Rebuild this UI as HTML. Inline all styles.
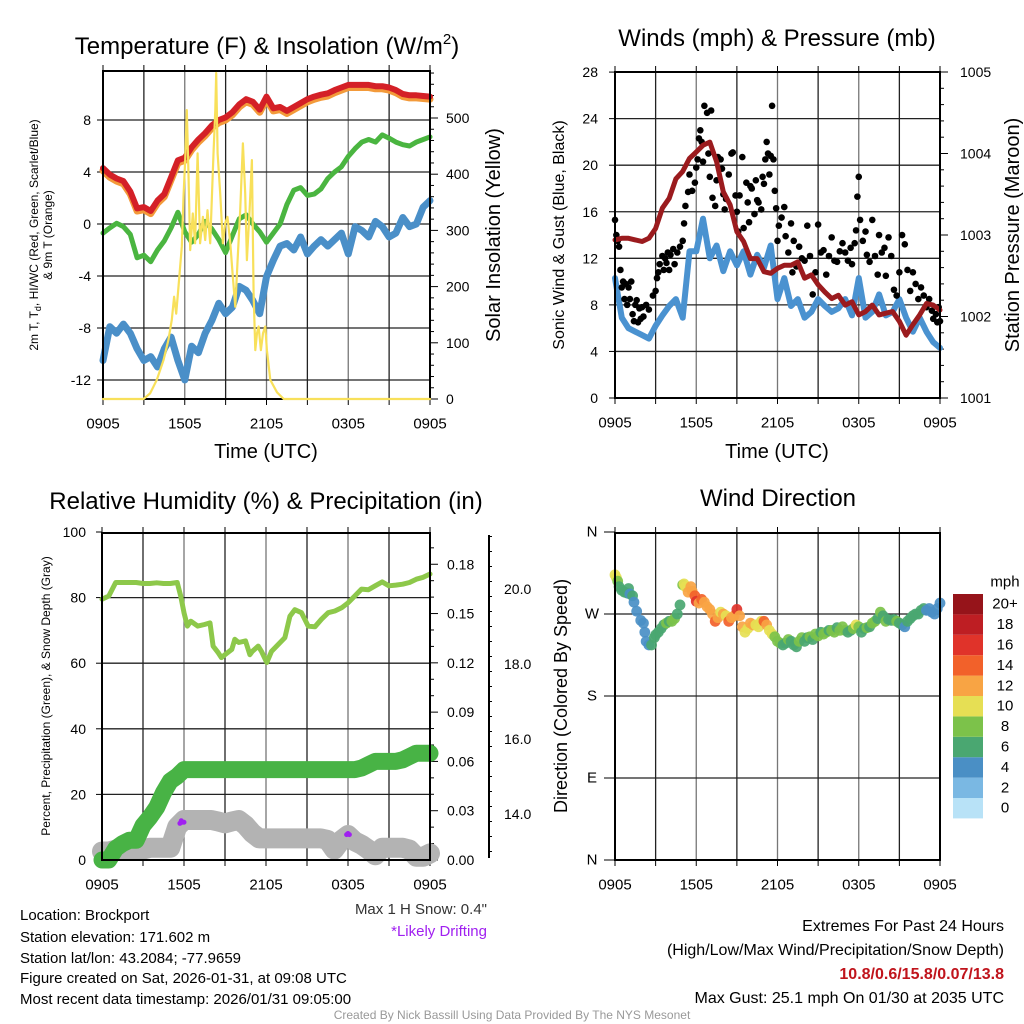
<!DOCTYPE html>
<html><head><meta charset="utf-8"><style>
html,body{margin:0;padding:0;background:#fff}
svg{display:block;font-family:"Liberation Sans",Arial,sans-serif}
</style></head><body>
<svg id="s" width="1024" height="1024" viewBox="0 0 1024 1024" xmlns="http://www.w3.org/2000/svg">
<rect width="1024" height="1024" fill="#fff"/>
<g id="layer"></g>
<text x="267" y="54" font-size="24" text-anchor="middle">Temperature (F) &amp; Insolation (W/m<tspan font-size="15" dy="-10">2</tspan><tspan dy="10">)</tspan></text>
<text x="777" y="46" font-size="24" text-anchor="middle">Winds (mph) &amp; Pressure (mb)</text>
<text x="266" y="509" font-size="24" text-anchor="middle">Relative Humidity (%) &amp; Precipitation (in)</text>
<text x="778" y="506" font-size="24" text-anchor="middle">Wind Direction</text>
<text x="266" y="458" font-size="20" text-anchor="middle">Time (UTC)</text>
<text x="777" y="458" font-size="20" text-anchor="middle">Time (UTC)</text>
<text transform="translate(38,235) rotate(-90)" font-size="12" text-anchor="middle">2m T, T<tspan font-size="9" dy="3">d</tspan><tspan dy="-3">, HI/WC (Red, Green, Scarlet/Blue)</tspan></text>
<text transform="translate(52,235) rotate(-90)" font-size="12" text-anchor="middle">&amp; 9m T (Orange)</text>
<text transform="translate(500,235) rotate(-90)" font-size="20" text-anchor="middle">Solar Insolation (Yellow)</text>
<text transform="translate(564,235) rotate(-90)" font-size="16" text-anchor="middle">Sonic Wind &amp; Gust (Blue, Black)</text>
<text transform="translate(1019,235) rotate(-90)" font-size="20" text-anchor="middle">Station Pressure (Maroon)</text>
<text transform="translate(50,696) rotate(-90)" font-size="12" text-anchor="middle">Percent, Precipitation (Green), &amp; Snow Depth (Gray)</text>
<text transform="translate(567,696) rotate(-90)" font-size="18" text-anchor="middle">Direction (Colored By Speed)</text>
<text x="487" y="914" font-size="15" text-anchor="end" fill="#333">Max 1 H Snow: 0.4"</text>
<text x="487" y="936" font-size="15" text-anchor="end" fill="#a020f0">*Likely Drifting</text>
<g font-size="15">
<text x="20" y="920">Location: Brockport</text>
<text x="20" y="942">Station elevation: 171.602 m</text>
<text x="20" y="963">Station lat/lon: 43.2084; -77.9659</text>
<text x="20" y="983">Figure created on Sat, 2026-01-31, at 09:08 UTC</text>
<text x="20" y="1004">Most recent data timestamp: 2026/01/31 09:05:00</text>
</g>
<g font-size="16" text-anchor="end">
<text x="1004" y="931">Extremes For Past 24 Hours</text>
<text x="1004" y="955">(High/Low/Max Wind/Precipitation/Snow Depth)</text>
<text x="1004" y="979" fill="#c0141c" font-weight="bold">10.8/0.6/15.8/0.07/13.8</text>
<text x="1004" y="1003">Max Gust: 25.1 mph On 01/30 at 2035 UTC</text>
</g>
<text x="512" y="1019" font-size="12" text-anchor="middle" fill="#999">Created By Nick Bassill Using Data Provided By The NYS Mesonet</text>
</svg>
<script>
// ---- data ----
const timeLabels = ["0905","1505","2105","0305","0905"];
const halfHours = [0,0.5,1,1.5,2,2.5,3,3.5,4,4.5,5,5.5,6,6.5,7,7.5,8,8.5,9,9.5,10,10.5,11,11.5,12,12.5,13,13.5,14,14.5,15,15.5,16,16.5,17,17.5,18,18.5,19,19.5,20,20.5,21,21.5,22,22.5,23,23.5,24];
const tempF = [4.3,3.8,3.5,3.3,2.5,1.2,1.3,1.0,1.8,2.3,3.6,4.9,5.1,5.9,6.5,7.0,7.6,8.0,8.2,8.6,9.2,9.6,9.4,8.8,9.8,8.9,9.0,8.7,9.0,9.3,9.6,9.8,9.95,10.05,10.3,10.5,10.7,10.7,10.7,10.7,10.6,10.6,10.5,10.3,10.0,9.9,9.9,9.85,9.8];
const temp9mF = [4.1,3.6,3.3,3.1,2.3,1.0,1.1,0.8,1.6,2.1,3.4,4.7,4.9,5.7,6.3,6.8,7.4,7.8,8.0,8.4,9.0,9.4,9.2,8.6,9.6,8.7,8.8,8.5,8.8,9.1,9.4,9.6,9.75,9.85,10.1,10.3,10.5,10.5,10.5,10.5,10.4,10.4,10.3,10.1,9.8,9.7,9.7,9.65,9.6];
const windChillF = [-0.7,-0.3,0.05,-0.2,-0.8,-2.6,-2.4,-2.9,-2.0,-1.3,-0.3,0.9,-0.6,-1.4,-0.8,0.2,-0.4,-1.2,-2.2,-0.9,0.4,0.7,0,-0.6,-1.4,-0.7,0,1.5,2.6,2.8,2.2,2.3,2.7,3.5,4.0,4.4,5.2,5.8,6.3,6.5,6.3,6.85,6.6,6.3,6.1,6.0,6.3,6.5,6.7];
const dewPointF = [-10.5,-7.9,-8.4,-7.7,-8.4,-9.6,-10.5,-10.2,-11.0,-9.6,-8.7,-10.5,-12.0,-9.4,-9.9,-8.4,-7.4,-6.1,-6.9,-6.4,-4.8,-5.1,-5.9,-6.9,-4.05,-2.8,-1.7,-1.5,-2.0,-1.0,-2.3,-1.7,-1.2,-1.7,-1.2,-0.7,-2.3,-0.2,-0.5,-1.0,0.2,-0.2,-1.0,-0.7,0.5,-0.2,0,1.3,1.8];
const solarHours = [0,2.97,3.46,3.95,4.44,4.80,5.05,5.22,5.37,5.54,5.78,5.91,6.03,6.15,6.27,6.40,6.59,6.76,6.94,7.13,7.33,7.50,7.67,7.87,8.11,8.24,8.31,8.41,8.60,8.80,8.97,9.14,9.34,9.53,9.71,9.88,10.07,10.27,10.44,10.56,10.76,10.93,11.05,11.18,11.30,11.42,11.59,11.74,11.91,12.03,12.28,12.77,13.26,24];
const solarWm2 = [0,0,10,34,69,105,141,182,152,200,271,360,425,514,407,265,330,277,437,277,324,283,336,277,437,514,580,437,366,277,313,324,277,218,164,247,336,455,366,247,336,425,188,87,117,129,87,117,129,87,34,12,0,0];
const windMph = [10.3,6.9,6.0,5.7,5.4,5.1,6.2,7.1,7.9,8.5,6.9,12.6,12.6,15.4,12.0,13.1,10.9,12.6,11.4,12.6,10.6,12.3,11.2,13.1,8.5,10.3,7.9,8.5,6.9,7.4,8.5,7.9,7.4,7.7,8.5,7.1,10.3,6.9,7.4,8.9,7.1,7.4,8.5,6.9,5.7,6.9,5.7,4.8,4.3];
const pressureMb = [1002.94,1002.96,1002.96,1002.94,1002.92,1002.96,1003.08,1003.33,1003.45,1003.69,1003.78,1003.94,1004.02,1004.10,1004.14,1003.90,1003.53,1003.37,1003.04,1002.92,1002.71,1002.71,1002.55,1002.53,1002.59,1002.63,1002.63,1002.67,1002.47,1002.51,1002.39,1002.30,1002.22,1002.26,1002.14,1002.18,1002.02,1002.06,1002.14,1002.02,1002.04,1002.06,1001.94,1001.77,1001.90,1002.02,1002.16,1002.14,1002.08];
const gustHours = [0,0.1,0.2,0.3,0.4,0.5,0.6,0.7,0.8,0.9,1.0,1.1,1.2,1.3,1.4,1.5,1.6,1.7,1.8,1.9,2.0,2.1,2.3,2.5,2.8,3.0,3.1,3.2,3.3,3.5,3.6,3.7,3.8,3.9,4.0,4.1,4.3,4.4,4.6,4.8,5.0,5.1,5.2,5.4,5.5,5.7,5.9,6.0,6.1,6.2,6.3,6.4,6.5,6.6,6.8,6.9,7.0,7.1,7.2,7.4,7.5,7.6,7.8,7.9,8.0,8.1,8.2,8.4,8.6,8.7,8.9,9.0,9.1,9.2,9.4,9.5,9.7,9.8,9.9,10.0,10.1,10.3,10.4,10.5,10.6,10.8,10.9,11.0,11.1,11.2,11.3,11.4,11.5,11.6,11.7,11.8,11.9,12.0,12.1,12.3,12.5,12.6,12.8,13.0,13.1,13.2,13.4,13.6,13.8,14.0,14.2,14.4,14.6,14.8,15.0,15.2,15.4,15.6,15.8,16.0,16.2,16.4,16.6,16.8,17.0,17.2,17.4,17.5,17.7,17.8,17.9,18.0,18.1,18.3,18.5,18.6,18.8,19.0,19.2,19.4,19.5,19.7,19.9,20.0,20.2,20.4,20.6,20.8,21.0,21.2,21.4,21.6,21.8,22.0,22.2,22.4,22.6,22.8,23.0,23.2,23.4,23.5,23.7,23.8,23.9,24.0];
const gustMph = [15.3,14.0,13.5,13.0,11.0,9.5,10.0,8.5,9.8,8.0,9.5,8.5,10.0,7.2,6.6,8.0,8.4,6.5,7.7,6.8,7.8,7.0,8.0,7.6,8.8,9.2,10.3,10.8,11.5,12.2,11.0,12.0,11.6,12.5,11.0,12.3,12.8,11.5,12.5,13.0,13.5,15.0,16.5,17.7,19.2,17.8,18.5,19.8,20.5,22.3,23.0,22.0,20.3,25.1,24.5,21.0,19.0,24.7,17.2,16.5,18.7,20.7,20.5,19.7,17.5,16.2,17.1,19.2,21.0,21.1,17.4,16.0,14.3,17.4,20.7,14.6,18.5,16.8,15.1,18.2,18.0,15.8,18.7,17.0,16.8,16.2,19.0,18.4,20.5,22.0,21.0,19.2,20.8,25.1,20.5,17.8,16.3,13.5,14.8,15.5,16.4,13.9,12.5,15.0,10.8,13.5,11.3,13.0,12.0,11.8,14.8,12.2,8.9,10.8,14.9,12.5,12.7,10.6,12.2,13.8,11.8,11.7,12.6,13.3,12.5,11.8,12.9,11.5,13.3,14.4,17.3,19.0,15.3,13.5,14.3,12.3,11.7,15.3,12.2,10.6,14.0,12.5,12.9,10.5,13.8,12.2,9.3,8.8,10.8,14.0,13.2,11.0,9.2,10.8,9.8,8.5,9.5,8.8,7.8,8.5,7.5,6.8,7.2,6.5,7.8,6.6];
const rhHours = [0,0.5,1,1.5,2,2.5,3,3.5,4,4.5,5,5.5,5.76,6.0,6.25,6.5,7.0,7.5,7.9,8.13,8.5,8.74,9.0,9.5,9.72,10.0,10.5,10.82,11.0,11.43,11.67,12.06,12.4,12.89,13.38,13.75,14.11,14.6,15.09,15.58,16.06,16.55,17.04,17.53,18.01,18.5,18.99,19.5,19.99,20.5,20.99,21.5,22.0,22.5,23.0,23.5,24];
const rhPct = [79.5,80.5,84.6,84.6,84.6,84.6,84.3,84.3,84.5,84.3,84.3,84.6,80.5,75.4,71.3,72.8,71.3,71.8,72.3,65.2,63.2,61.7,62.6,64.2,67.3,66.3,66.8,62.6,63.6,65.2,63.6,60.2,63.6,65.7,67.8,74.3,76.3,75.4,71.3,71.1,73.4,75.4,75.9,76.9,78.4,80.5,82.6,82.4,83.6,84.8,83.6,83.8,84.1,84.6,85.6,86.2,87.2];
const precipIn = [0,0,0.007,0.010,0.012,0.012,0.021,0.026,0.032,0.041,0.048,0.051,0.055,0.055,0.055,0.055,0.055,0.055,0.055,0.055,0.055,0.055,0.055,0.055,0.055,0.055,0.055,0.055,0.055,0.055,0.055,0.055,0.055,0.055,0.055,0.055,0.055,0.055,0.056,0.058,0.060,0.060,0.060,0.060,0.061,0.063,0.065,0.065,0.065];
const snowDepthIn = [13.0,13.0,13.05,13.05,13.05,13.05,13.05,13.1,13.1,13.1,13.1,13.66,13.84,13.84,13.84,13.84,13.84,13.8,13.75,13.8,13.84,13.7,13.49,13.35,13.35,13.35,13.35,13.35,13.35,13.35,13.35,13.35,13.35,13.31,13.05,13.3,13.44,13.27,13.18,13.05,12.9,13.1,13.1,13.1,13.1,13.05,12.86,12.86,12.95];
const driftHours = [5.7,5.8,5.9,6.0,17.9,18.0,18.1];
const driftDepth = [13.75,13.82,13.78,13.78,13.45,13.48,13.45];
const dirHours = [0.0,0.1,0.2,0.3,0.5,0.7,0.9,1.0,1.1,1.3,1.4,1.6,1.9,2.1,2.2,2.3,2.5,2.7,2.9,3.0,3.2,3.4,3.6,3.8,4.0,4.2,4.4,4.6,4.8,5.0,5.1,5.2,5.4,5.6,5.7,5.9,6.0,6.2,6.4,6.6,6.8,7.0,7.2,7.4,7.6,7.8,8.0,8.2,8.4,8.6,8.8,9.0,9.2,9.4,9.6,9.8,10.0,10.2,10.4,10.6,10.8,11.0,11.2,11.4,11.6,11.8,12.0,12.2,12.4,12.6,12.8,13.0,13.2,13.4,13.6,13.8,14.0,14.2,14.4,14.6,14.8,15.0,15.2,15.4,15.6,15.8,16.0,16.2,16.4,16.6,16.8,17.0,17.2,17.4,17.6,17.8,18.0,18.2,18.4,18.6,18.8,19.0,19.2,19.4,19.6,19.8,20.0,20.2,20.4,20.6,20.8,21.0,21.2,21.4,21.6,21.8,22.0,22.2,22.4,22.6,22.8,23.0,23.2,23.4,23.6,23.8,24.0];
const dirDeg = [313,310,306,300,296,294,293,298,292,290,283,273,263,260,250,240,236,236,244,247,250,254,258,260,262,262,265,270,280,302,303,300,294,300,295,290,284,282,286,283,278,275,270,262,266,272,270,268,262,266,268,275,268,256,250,254,260,258,258,256,262,262,258,252,248,245,240,238,236,238,242,240,236,234,240,244,240,244,245,242,248,246,250,248,250,252,252,250,255,252,256,252,250,252,254,258,256,250,254,255,256,260,262,265,272,268,262,264,263,264,262,260,258,256,262,265,268,270,270,274,276,274,276,272,270,276,282];
const dirSpeed = [10,10,9,7,6,6,6,6,4,6,5,4,4,4,4,4,4,6,6,7,6,7,7,8,7,8,8,7,6,9,10,11,12,13,12,15,16,13,15,12,12,13,12,15,12,11,12,11,15,12,13,16,12,12,11,10,13,12,11,10,10,14,13,10,11,9,9,8,6,7,8,6,7,6,8,8,6,7,8,6,8,8,7,8,8,7,8,8,7,8,9,8,7,6,8,10,8,6,7,8,7,8,8,7,8,7,8,6,7,7,8,7,6,4,6,6,6,7,6,6,6,5,4,4,4,4,4];
const speedBins = ["0","2","4","6","8","10","12","14","16","18","20+"];
const speedColors = ["#b8e2f7","#7ab8e3","#4a8fc5","#4aa771","#7cc24a","#e6df54","#f8a444","#f2612a","#e0332a","#be1e23","#96141a"];
const tempTicks = [8,4,0,-4,-8,-12];
const solarTicks = [0,100,200,300,400,500];
const windTicks = [0,4,8,12,16,20,24,28];
const pressTicks = [1001,1002,1003,1004,1005];
const rhTicks = [0,20,40,60,80,100];
const precipTicks = ["0.00","0.03","0.06","0.09","0.12","0.15","0.18"];
const snowTicks = ["14.0","16.0","18.0","20.0"];
const dirTicks = [0,90,180,270,360];
const dirLabels = ["N","E","S","W","N"];

// ---- axes ----
const NS="http://www.w3.org/2000/svg";
const L=document.getElementById('layer');
function mk(tag,attrs,parent){const e=document.createElementNS(NS,tag);for(const k in attrs)e.setAttribute(k,attrs[k]);(parent||L).appendChild(e);return e;}
const sx1=h=>103+h*(327/24), yT=v=>224-v*13, yS=w=>399-w*0.562;
const sx2=h=>615+h*(325/24), yW=v=>398-v*11.64, yP=p=>398-(p-1001)*81.5;
const sx3=h=>102+h*(328/24), yRH=r=>860-r*3.28, yPr=i=>860-i*1643, ySn=d=>814-(d-14)*37.5;
const sx4=sx2, yD=d=>860-d*0.9111;

function line(x1,y1,x2,y2,stroke,w,name){const e=mk('line',{x1:x1,y1:y1,x2:x2,y2:y2,stroke:stroke,'stroke-width':w});

return e;}
function text(x,y,s,size,anchor,name){const e=mk('text',{x:x,y:y,'font-size':size,'text-anchor':anchor,'dominant-baseline':'central'});e.textContent=s;

return e;}
function poly(xs,ys,color,w,name){const pts=xs.map((x,i)=>x.toFixed(1)+','+ys[i].toFixed(1)).join(' ');
const e=mk('polyline',{points:pts,fill:'none',stroke:color,'stroke-width':w,'stroke-linejoin':'round','stroke-linecap':'round'});

return e;}
function frame(x0,y0,x1,y1,sx,name){
  for(let h=3;h<24;h+=3){line(sx(h),y0,sx(h),y1,h%6?'#222':'#777',1.3,name+'-vgrid');}
  for(let h=0;h<=24;h+=3){line(sx(h),y1,sx(h),y1+6,'#000',1,name+'-xtick');line(sx(h),y0,sx(h),y0-6,'#000',1,name+'-xtick-top');}
  timeLabels.forEach((t,i)=>text(sx(i*6),y1+25,t,15,'middle',name+'-xlabel'));
}
function border(x0,y0,x1,y1,name){const e=mk('rect',{x:x0,y:y0,width:x1-x0,height:y1-y0,fill:'none',stroke:'#000','stroke-width':2});

}

// Panel 1
frame(103,71,430,399,sx1,'temp');
tempTicks.forEach(v=>{line(103,yT(v),430,yT(v),'#222',1.3,'temp-hgrid');line(97,yT(v),103,yT(v),'#000',1,'temp-ytick');text(91,yT(v),String(v),14,'end','temp-ylabel');});
for(let w=0;w<=580;w+=20){line(430,yS(w),w%100?434:438,yS(w),'#000',1,'solar-ytick');}
solarTicks.forEach(w=>text(446,yS(w),String(w),14,'start','solar-ylabel'));
poly(halfHours.map(sx1),temp9mF.map(yT),'#f39a3a',7,'temp-9m-line');
poly(halfHours.map(sx1),tempF.map(yT),'#d42027',6,'temp-2m-line');
poly(halfHours.map(sx1),windChillF.map(yT),'#4ab540',5,'wind-chill-line');
poly(halfHours.map(sx1),dewPointF.map(yT),'#4a8fc8',7,'dewpoint-line');
border(103,71,430,399,'temp-plot-frame');
poly(solarHours.map(sx1),solarWm2.map(yS),'#f8e05a',2.2,'solar-line');

// Panel 2
frame(615,72,940,398,sx2,'wind');
windTicks.forEach(v=>{line(615,yW(v),940,yW(v),'#222',1.3,'wind-hgrid');line(609,yW(v),615,yW(v),'#000',1,'wind-ytick');text(598,yW(v),String(v),14,'end','wind-ylabel');});
for(let p=1001;p<=1005.001;p+=0.2){line(940,yP(p),Math.abs(p-Math.round(p))<0.01?948:944,yP(p),'#000',1,'pressure-ytick');}
pressTicks.forEach(p=>text(960,yP(p),String(p),14,'start','pressure-ylabel'));
poly(halfHours.map(sx2),windMph.map(yW),'#4a92d0',6,'sonic-wind-line');
gustHours.forEach((h,i)=>{const c=mk('circle',{cx:sx2(h),cy:yW(gustMph[i]),r:3.3,fill:'#000'});

});
poly(halfHours.map(sx2),pressureMb.map(yP),'#9b1b1e',5,'pressure-line');
border(615,72,940,398,'wind-plot-frame');

// Panel 3
frame(102,533,430,860,sx3,'rh');
rhTicks.forEach(v=>{if(v>0&&v<100)line(102,yRH(v),430,yRH(v),'#222',1.3,'rh-hgrid');line(96,yRH(v),102,yRH(v),'#000',1,'rh-ytick');text(86,yRH(v),String(v),14,'end','rh-ylabel');});
for(let k=0;k<=19;k++){const y=860-k*16.43;line(430,y,k%3?434:438,y,'#000',1,'precip-ytick');}
precipTicks.forEach(s=>text(447,yPr(parseFloat(s)),s,14,'start','precip-ylabel'));
line(489,535,489,858,'#000',2,'snow-axis-line');
for(let d=13;d<=21.4;d+=0.4){const y=ySn(d);if(y>=535&&y<=858)line(489,y,Math.abs(d-Math.round(d))<0.01&&Math.round(d)%2===0?495:492,y,'#000',1,'snow-ytick');}
snowTicks.forEach(s=>text(504,ySn(parseFloat(s)),s,14,'start','snow-ylabel'));
poly(halfHours.map(sx3),snowDepthIn.map(ySn),'#b3b3b3',20,'snow-depth-line');
poly(halfHours.map(sx3),precipIn.map(yPr),'#48b345',17,'precip-line');
poly(rhHours.map(sx3),rhPct.map(yRH),'#8dc84a',5,'rh-line');
driftHours.forEach((h,i)=>{const c=mk('circle',{cx:sx3(h),cy:ySn(driftDepth[i]),r:2.5,fill:'#a020f0'});

});
border(102,533,430,860,'rh-plot-frame');

// Panel 4
frame(615,533,940,860,sx4,'dir');
dirTicks.forEach((d,i)=>{if(d>0&&d<360)line(615,yD(d),940,yD(d),'#222',1.3,'dir-hgrid');line(604,yD(d),615,yD(d),'#000',1,'dir-ytick');text(592,yD(d),dirLabels[i],15,'middle','dir-ylabel');});
dirHours.forEach((h,i)=>{const bi=Math.min(10,Math.floor(dirSpeed[i]/2));const c=mk('circle',{cx:sx4(h),cy:yD(dirDeg[i]),r:5.4,fill:speedColors[bi],'fill-opacity':0.92});

});
border(615,533,940,860,'dir-plot-frame');
// colorbar
text(1005,582,'mph',15,'middle','colorbar-title');
speedBins.forEach((b,i)=>{const y=594+(10-i)*20.4;const r=mk('rect',{x:953,y:y,width:30,height:20.4,fill:speedColors[i]});


text(1005,y+10.2,b,15,'middle','colorbar-label');});
</script>
</body></html>
